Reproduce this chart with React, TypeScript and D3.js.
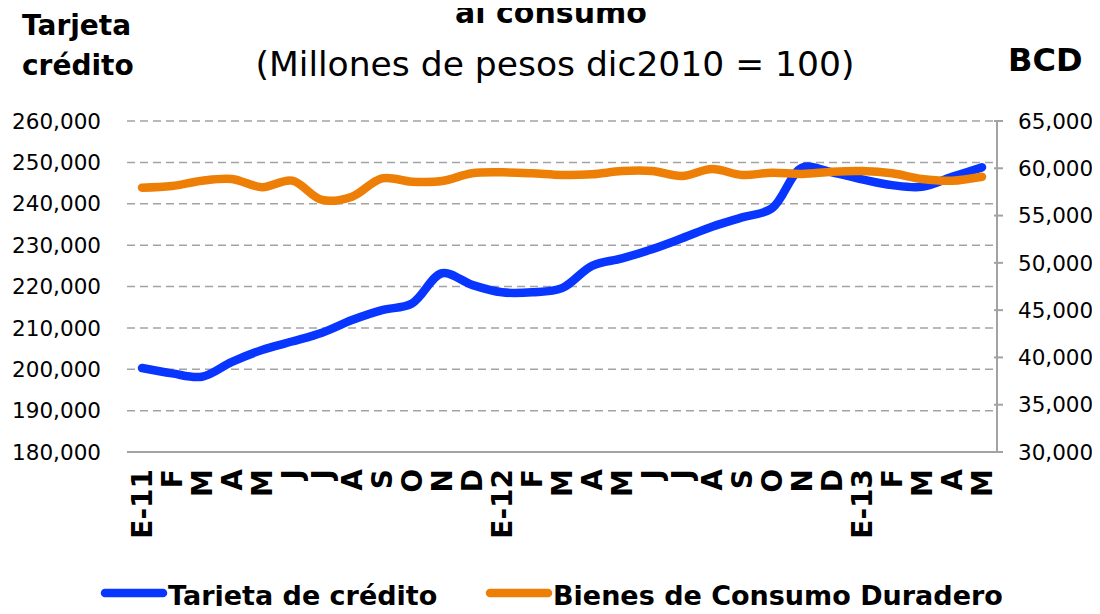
import React, { useRef, useEffect } from "react";
import * as d3 from "d3";

// meses E-11 .. M-13
const months = [
  "E-11", "F", "M", "A", "M", "J", "J", "A", "S", "O", "N", "D",
  "E-12", "F", "M", "A", "M", "J", "J", "A", "S", "O", "N", "D",
  "E-13", "F", "M", "A", "M",
];

// Tarjeta de crédito (eje izquierdo)
const tarjeta = [
  200300, 199000, 198200, 201800, 204650, 206700, 208850, 211900, 214300, 215900,
  223200, 220400, 218600, 218600, 219600, 225000, 226800, 229000, 231650, 234450,
  236700, 238900, 248700, 247600, 245900, 244500, 244100, 246500, 248800,
];

// Bienes de Consumo Duradero (eje derecho)
const bcd = [
  57950, 58130, 58690, 58870, 58000, 58690, 56650, 57000, 58940, 58580,
  58650, 59470, 59570, 59470, 59290, 59360, 59710, 59710, 59180, 59920,
  59290, 59530, 59400, 59640, 59710, 59470, 58870, 58690, 59110,
];

const leftTicks = [180000, 190000, 200000, 210000, 220000, 230000, 240000, 250000, 260000];
const rightTicks = [30000, 35000, 40000, 45000, 50000, 55000, 60000, 65000];

const BLUE = "#0836FF";
const ORANGE = "#EE7F06";
const GRID = "#A3A3A3";
const FONT = "'DejaVu Sans', sans-serif";

function App() {
  const ref = useRef<HTMLDivElement>(null);

  useEffect(() => {
    const width = 1100;
    const height = 614;
    const m = { left: 127, right: 997, top: 121, bottom: 452 };

    d3.select(ref.current).selectAll("*").remove();
    const svg = d3
      .select(ref.current)
      .append("svg")
      .attr("width", width)
      .attr("height", height)
      .attr("viewBox", [0, 0, width, height])
      .style("display", "block");

    const x = d3
      .scalePoint<number>()
      .domain(d3.range(months.length))
      .range([m.left, m.right])
      .padding(0.5);
    const yL = d3.scaleLinear().domain([180000, 260000]).range([m.bottom, m.top]);
    const yR = d3.scaleLinear().domain([30000, 65000]).range([m.bottom, m.top]);
    const fmt = d3.format(",");

    // gridlines
    svg
      .append("g")
      .selectAll("line")
      .data(leftTicks.slice(1))
      .join("line")
      .attr("x1", m.left)
      .attr("x2", m.right - 4)
      .attr("y1", (d) => yL(d))
      .attr("y2", (d) => yL(d))
      .attr("stroke", GRID)
      .attr("stroke-width", 1.5)
      .attr("stroke-dasharray", "8,5");

    // bottom axis
    svg
      .append("line")
      .attr("x1", m.left)
      .attr("x2", m.right)
      .attr("y1", m.bottom)
      .attr("y2", m.bottom)
      .attr("stroke", GRID)
      .attr("stroke-width", 2);

    // right axis
    svg
      .append("line")
      .attr("x1", m.right)
      .attr("x2", m.right)
      .attr("y1", m.top)
      .attr("y2", m.bottom)
      .attr("stroke", GRID)
      .attr("stroke-width", 2);
    svg
      .append("g")
      .selectAll("line")
      .data(rightTicks)
      .join("line")
      .attr("x1", m.right - 3)
      .attr("x2", m.right + 6)
      .attr("y1", (d) => yR(d))
      .attr("y2", (d) => yR(d))
      .attr("stroke", GRID)
      .attr("stroke-width", 2);

    // tick labels
    svg
      .append("g")
      .selectAll("text")
      .data(leftTicks)
      .join("text")
      .attr("x", 101)
      .attr("y", (d) => yL(d))
      .attr("dy", "0.36em")
      .attr("text-anchor", "end")
      .attr("font-family", FONT)
      .attr("font-size", 21.5)
      .attr("fill", "#000")
      .text((d) => fmt(d));
    svg
      .append("g")
      .selectAll("text")
      .data(rightTicks)
      .join("text")
      .attr("x", 1018)
      .attr("y", (d) => yR(d))
      .attr("dy", "0.36em")
      .attr("text-anchor", "start")
      .attr("font-family", FONT)
      .attr("font-size", 21.5)
      .attr("fill", "#000")
      .text((d) => fmt(d));

    // x labels
    svg
      .append("g")
      .selectAll("text")
      .data(months)
      .join("text")
      .attr("transform", (_, i) => `translate(${x(i)},469) rotate(-90)`)
      .attr("dy", "0.36em")
      .attr("text-anchor", "end")
      .attr("font-family", FONT)
      .attr("font-weight", "bold")
      .attr("font-size", 28)
      .text((d) => d);

    // lines
    const curve = d3.curveCatmullRom.alpha(0.5);
    const lineL = d3
      .line<number>()
      .x((_, i) => x(i) as number)
      .y((d) => yL(d))
      .curve(curve);
    const lineR = d3
      .line<number>()
      .x((_, i) => x(i) as number)
      .y((d) => yR(d))
      .curve(curve);

    svg
      .append("path")
      .datum(tarjeta)
      .attr("d", lineL)
      .attr("fill", "none")
      .attr("stroke", BLUE)
      .attr("stroke-width", 8.5)
      .attr("stroke-linecap", "round")
      .attr("stroke-linejoin", "round");
    svg
      .append("path")
      .datum(bcd)
      .attr("d", lineR)
      .attr("fill", "none")
      .attr("stroke", ORANGE)
      .attr("stroke-width", 8.5)
      .attr("stroke-linecap", "round")
      .attr("stroke-linejoin", "round");

    // titles
    const bold = (sel: any) =>
      sel
        .attr("font-family", FONT)
        .attr("font-weight", "bold")
        .attr("fill", "#000");
    svg.append("text").call(bold).attr("x", 551).attr("y", 23).attr("text-anchor", "middle")
      .attr("font-size", 30).text("al consumo");
    svg.append("text").attr("x", 555).attr("y", 76).attr("text-anchor", "middle")
      .attr("font-family", FONT).attr("font-size", 34.5).attr("fill", "#000")
      .text("(Millones de pesos dic2010 = 100)");
    svg.append("text").call(bold).attr("x", 22).attr("y", 35).attr("font-size", 28).text("Tarjeta");
    svg.append("text").call(bold).attr("x", 22).attr("y", 75).attr("font-size", 28).text("crédito");
    svg.append("text").call(bold).attr("x", 1008).attr("y", 71).attr("font-size", 32).text("BCD");

    // legend
    const legend = [
      { label: "Tarjeta de crédito", color: BLUE, x: 105 },
      { label: "Bienes de Consumo Duradero", color: ORANGE, x: 490 },
    ];
    const lg = svg.append("g").selectAll("g").data(legend).join("g")
      .attr("transform", (d) => `translate(${d.x},593)`);
    lg.append("line").attr("x1", 0).attr("x2", 58).attr("y1", 0).attr("y2", 0)
      .attr("stroke", (d) => d.color).attr("stroke-width", 8.5).attr("stroke-linecap", "round");
    lg.append("text").call(bold).attr("x", 63).attr("y", 12).attr("font-size", 27)
      .text((d) => d.label);
  }, []);

  return <div ref={ref} style={{ margin: -8 }} />;
}

export default App;
